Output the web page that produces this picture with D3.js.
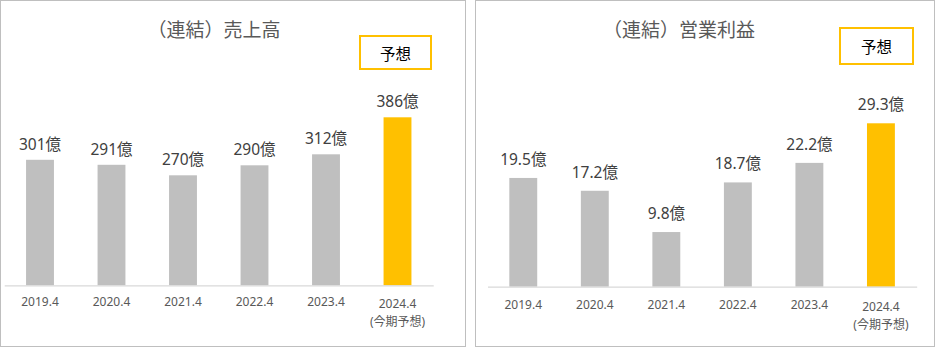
<!DOCTYPE html>
<html><head><meta charset="utf-8">
<script src="https://cdn.jsdelivr.net/npm/d3@7"></script>
<style>
html,body{margin:0;padding:0;background:#fff;}
svg{display:block;font-family:"Noto Sans","Noto Sans CJK JP",sans-serif;}
</style></head>
<body>
<svg id="chart" width="940" height="348"></svg>
<script>
// ---- data ----
const categories = ["2019.4", "2020.4", "2021.4", "2022.4", "2023.4", "2024.4"];
const forecastCategory = "2024.4";
const forecastNote = "(今期予想)";
const salesValues = [301, 291, 270, 290, 312, 386];
const profitValues = [19.5, 17.2, 9.8, 18.7, 22.2, 29.3];
const unitLabel = "億";
const salesTitle = "（連結）売上高";
const profitTitle = "（連結）営業利益";
const forecastBadge = "予想";
const salesDomain = [50, 450];
const profitDomain = [0, 35];

// ---- layout ----
const panels = [
  {values: salesValues, title: salesTitle, domain: salesDomain,
   frame: [0.5, 0.5, 465, 346], xRange: [4.25, 433.25], yRange: [285.3, 85.3],
   titleX: 214, titleY: 36.5, badge: [360, 36, 71, 33], badgeTextY: 60,
   labelGap: 10, tickBase: 20.7, fmt: d => d3.format("d")(d)},
  {values: profitValues, title: profitTitle, domain: profitDomain,
   frame: [475.5, 0.5, 459, 346], xRange: [487.5, 916.7], yRange: [286.7, 91.5],
   titleX: 679, titleY: 36.5, badge: [840, 28, 73, 36], badgeTextY: 53,
   labelGap: 13, tickBase: 22.3, fmt: d => d3.format(".1f")(d)}
];

const svg = d3.select("#chart");

panels.forEach(p => {
  const g = svg.append("g");
  g.append("rect").attr("x", p.frame[0]).attr("y", p.frame[1])
    .attr("width", p.frame[2]).attr("height", p.frame[3])
    .attr("fill", "#fff").attr("stroke", "#BFBFBF").attr("stroke-width", 1);

  const x = d3.scaleBand().domain(categories).range(p.xRange)
    .paddingInner(0.61).paddingOuter(0.305);
  const y = d3.scaleLinear().domain(p.domain).range(p.yRange);
  const data = categories.map((c, i) => ({c, v: p.values[i]}));

  // title
  g.append("text").attr("x", p.titleX).attr("y", p.titleY)
    .attr("text-anchor", "middle").attr("font-size", 19).attr("fill", "#595959")
    .attr("font-family", "\"Noto Sans CJK JP\",sans-serif")
    .text(p.title);

  // badge
  g.append("rect").attr("x", p.badge[0]).attr("y", p.badge[1])
    .attr("width", p.badge[2]).attr("height", p.badge[3])
    .attr("fill", "#fff").attr("stroke", "#FFC000").attr("stroke-width", 2);
  g.append("text").attr("x", p.badge[0] + p.badge[2] / 2).attr("y", p.badgeTextY)
    .attr("text-anchor", "middle").attr("font-size", 15.5).attr("fill", "#000")
    .attr("font-family", "\"Noto Sans CJK JP\",sans-serif")
    .text(forecastBadge);

  // bars
  g.selectAll("rect.bar").data(data).join("rect").attr("class", "bar")
    .attr("x", d => x(d.c)).attr("width", x.bandwidth())
    .attr("y", d => y(d.v)).attr("height", d => y(p.domain[0]) - y(d.v))
    .attr("fill", d => d.c === forecastCategory ? "#FFC000" : "#BFBFBF");

  // value labels
  g.selectAll("text.val").data(data).join("text").attr("class", "val")
    .attr("x", d => x(d.c) + x.bandwidth() / 2).attr("y", d => y(d.v) - p.labelGap)
    .attr("text-anchor", "middle").attr("font-size", 15.5).attr("fill", "#404040")
    .text(d => p.fmt(d.v) + unitLabel);

  // axis
  const axis = g.append("g").attr("transform", `translate(0,${y(p.domain[0])})`)
    .call(d3.axisBottom(x).tickSize(0).tickSizeOuter(0));
  axis.select(".domain").attr("stroke", "#D9D9D9").attr("stroke-width", 1.3);
  axis.selectAll(".tick text").each(function(d) {
    const t = d3.select(this);
    t.attr("dy", null).attr("font-size", 12).attr("fill", "#595959")
      .attr("font-family", "\"Noto Sans\",\"Noto Sans CJK JP\",sans-serif");
    if (d === forecastCategory) {
      t.text(null).attr("y", p.tickBase + 2.3);
      t.append("tspan").attr("x", 0).text(d);
      t.append("tspan").attr("x", 0).attr("dy", 18).text(forecastNote);
    } else {
      t.attr("y", p.tickBase);
    }
  });
});
</script>
</body></html>
